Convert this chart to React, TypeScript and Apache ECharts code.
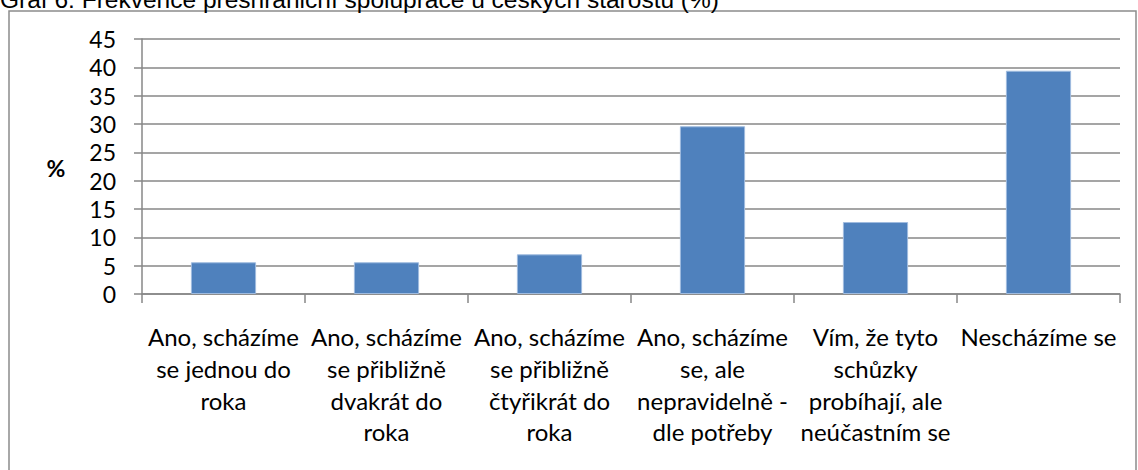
import React, { useEffect, useRef } from "react";
import * as echarts from "echarts";

const title = "Graf 6: Frekvence přeshraniční spolupráce u českých starostů (%)";
const yAxisName = "%";
const categories = [
  "Ano, scházíme\nse jednou do\nroka",
  "Ano, scházíme\nse přibližně\ndvakrát do\nroka",
  "Ano, scházíme\nse přibližně\nčtyřikrát do\nroka",
  "Ano, scházíme\nse, ale\nnepravidelně -\ndle potřeby",
  "Vím, že tyto\nschůzky\nprobíhají, ale\nneúčastním se",
  "Nescházíme se",
];
const values = [5.6, 5.6, 7.0, 29.6, 12.7, 39.4];
const yMin = 0;
const yMax = 45;
const yStep = 5;

const FONT = "Lato, 'Open Sans', sans-serif";
const AXIS_COLOR = "#878787";

export default function App() {
  const ref = useRef<HTMLDivElement>(null);
  useEffect(() => {
    if (!ref.current) return;
    const chart = echarts.init(ref.current, null, { renderer: "svg" });
    chart.setOption({
      animation: false,
      backgroundColor: "#ffffff",
      graphic: [
        {
          type: "rect",
          shape: { x: 9, y: 11, width: 1127, height: 470 },
          style: { fill: "none", stroke: "#8c8c8c", lineWidth: 1.5 },
          silent: true,
        },
        {
          type: "text",
          x: 0,
          y: 12,
          style: {
            text: title,
            font: "24.5px 'Liberation Sans', Arial, sans-serif",
            fill: "#000",
            verticalAlign: "bottom",
          },
          silent: true,
        },
        {
          type: "text",
          x: 56,
          y: 168,
          style: {
            text: yAxisName,
            font: "bold 23px " + FONT,
            fill: "#000",
            align: "center",
            verticalAlign: "middle",
          },
          silent: true,
        },
      ],
      grid: { left: 142, right: 18, top: 39, bottom: 176 },
      xAxis: {
        type: "category",
        data: categories,
        axisLine: { lineStyle: { color: AXIS_COLOR, width: 1.5 } },
        axisTick: { show: true, length: 9, lineStyle: { color: AXIS_COLOR, width: 1.5 } },
        axisLabel: {
          interval: 0,
          margin: 27,
          color: "#000",
          fontFamily: FONT,
          fontSize: 24,
          lineHeight: 31.7,
          align: "center",
        },
      },
      yAxis: {
        type: "value",
        min: yMin,
        max: yMax,
        interval: yStep,
        axisLine: { show: true, lineStyle: { color: AXIS_COLOR, width: 1.5 } },
        axisTick: { show: true, length: 8, lineStyle: { color: AXIS_COLOR, width: 1.5 } },
        splitLine: { show: true, lineStyle: { color: AXIS_COLOR, width: 1.5 } },
        axisLabel: {
          margin: 26,
          color: "#000",
          fontFamily: FONT,
          fontSize: 23,
        },
      },
      series: [
        {
          type: "bar",
          data: values,
          barWidth: "40%",
          itemStyle: {
            color: "#4F81BD",
            borderColor: "#9fbbdf",
            borderWidth: 1,
          },
        },
      ],
    });
    return () => chart.dispose();
  }, []);
  return (
    <div
      ref={ref}
      style={{ position: "absolute", left: 0, top: 0, width: 1138, height: 470 }}
    />
  );
}
